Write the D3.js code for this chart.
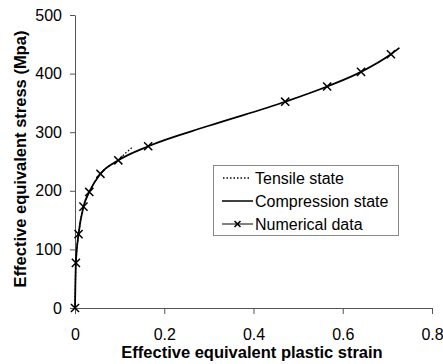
<!DOCTYPE html>
<html>
<head>
<meta charset="utf-8">
<script src="https://cdn.jsdelivr.net/npm/d3@7"></script>
<style>
  html, body { margin: 0; padding: 0; background: #fff; }
  svg { display: block; font-family: Arial, "Liberation Sans", sans-serif; }
</style>
</head>
<body>
<svg id="chart" width="443" height="364"></svg>
<script>
// ---- data ----
const numStrain = [0, 0.002, 0.008, 0.019, 0.032, 0.057, 0.097, 0.164, 0.471, 0.565, 0.641, 0.708];
const numStress = [0, 77, 126, 173, 198, 229, 252, 276, 352, 378, 403, 433];

const compStrain = [0, 0.002, 0.008, 0.019, 0.032, 0.057, 0.097, 0.164, 0.3, 0.471, 0.565, 0.641, 0.708, 0.727];
const compStress = [0, 77, 126, 173, 198, 229, 252, 276, 311, 352, 378, 403, 433, 444];

const tensStrain = [0, 0.002, 0.008, 0.019, 0.032, 0.057, 0.097, 0.113, 0.128];
const tensStress = [0, 77, 126, 173, 198, 229, 253, 264, 274];

const xTicks = [0, 0.2, 0.4, 0.6, 0.8];
const yTicks = [0, 100, 200, 300, 400, 500];
const legendLabels = ["Tensile state", "Compression state", "Numerical data"];

// ---- layout ----
const svg = d3.select("#chart");
const x = d3.scaleLinear().domain([0, 0.8]).range([75, 432]);
const y = d3.scaleLinear().domain([0, 500]).range([308, 15]);

const axisColor = "#555";

// x axis
const gx = svg.append("g").attr("transform", `translate(0,${y(0)})`)
  .call(d3.axisBottom(x).tickValues(xTicks).tickFormat(d => d === 0 ? "0" : d3.format(".1f")(d)).tickSize(6).tickSizeOuter(0));
gx.select(".domain").attr("stroke", axisColor);
gx.selectAll(".tick line").attr("stroke", axisColor);
gx.selectAll(".tick text").attr("font-size", 16).attr("fill", "#000").attr("dy", "1.42em")
  .attr("font-family", "Arial, 'Liberation Sans', sans-serif");

// y axis
const gy = svg.append("g").attr("transform", `translate(${x(0)},0)`)
  .call(d3.axisLeft(y).tickValues(yTicks).tickSize(5).tickSizeOuter(0));
gy.select(".domain").attr("stroke", axisColor);
gy.selectAll(".tick line").attr("stroke", axisColor);
gy.selectAll(".tick text").attr("font-size", 16).attr("fill", "#000").attr("x", -13)
  .attr("font-family", "Arial, 'Liberation Sans', sans-serif");

// axis titles
svg.append("text").attr("x", 252).attr("y", 358).attr("text-anchor", "middle")
  .attr("font-size", 16.5).attr("font-weight", "bold").text("Effective equivalent plastic strain");
svg.append("text").attr("transform", "translate(26,159) rotate(-90)").attr("text-anchor", "middle")
  .attr("font-size", 16.5).attr("font-weight", "bold").text("Effective equivalent stress (Mpa)");

// lines
const line = d3.line().x(d => x(d[0])).y(d => y(d[1])).curve(d3.curveMonotoneX);
const comp = compStrain.map((s, i) => [s, compStress[i]]);
const tens = tensStrain.map((s, i) => [s, tensStress[i]]);
const nums = numStrain.map((s, i) => [s, numStress[i]]);

svg.append("path").datum(tens).attr("d", line).attr("fill", "none")
  .attr("stroke", "#000").attr("stroke-width", 1.3).attr("stroke-dasharray", "1.5,2");
svg.append("path").datum(comp).attr("d", line).attr("fill", "none")
  .attr("stroke", "#000").attr("stroke-width", 1.8);

// x markers
const times = d3.symbol().type(d3.symbolTimes).size(45);
svg.append("g").selectAll("path").data(nums).join("path")
  .attr("transform", d => `translate(${x(d[0])},${y(d[1])})`)
  .attr("d", times).attr("fill", "none").attr("stroke", "#000").attr("stroke-width", 1.5);

// legend
const lg = svg.append("g");
lg.append("rect").attr("x", 213.5).attr("y", 165.5).attr("width", 185).attr("height", 70)
  .attr("fill", "#fff").attr("stroke", "#888").attr("stroke-width", 1);
const rowY = [178, 201, 224];
lg.append("line").attr("x1", 223).attr("x2", 250).attr("y1", rowY[0]).attr("y2", rowY[0])
  .attr("stroke", "#000").attr("stroke-width", 1.3).attr("stroke-dasharray", "1.5,2");
lg.append("line").attr("x1", 222).attr("x2", 253).attr("y1", rowY[1]).attr("y2", rowY[1])
  .attr("stroke", "#000").attr("stroke-width", 1.5);
lg.append("line").attr("x1", 222).attr("x2", 253).attr("y1", rowY[2]).attr("y2", rowY[2])
  .attr("stroke", "#000").attr("stroke-width", 1);
lg.append("path").attr("transform", `translate(237.5,${rowY[2]})`).attr("d", d3.symbol().type(d3.symbolTimes).size(25))
  .attr("fill", "none").attr("stroke", "#000").attr("stroke-width", 1.5);
lg.selectAll("text.lab").data(legendLabels).join("text").attr("class", "lab")
  .attr("x", 255).attr("y", (d, i) => rowY[i]).attr("dy", "0.36em")
  .attr("font-size", 16).attr("fill", "#000").text(d => d);
</script>
</body>
</html>
